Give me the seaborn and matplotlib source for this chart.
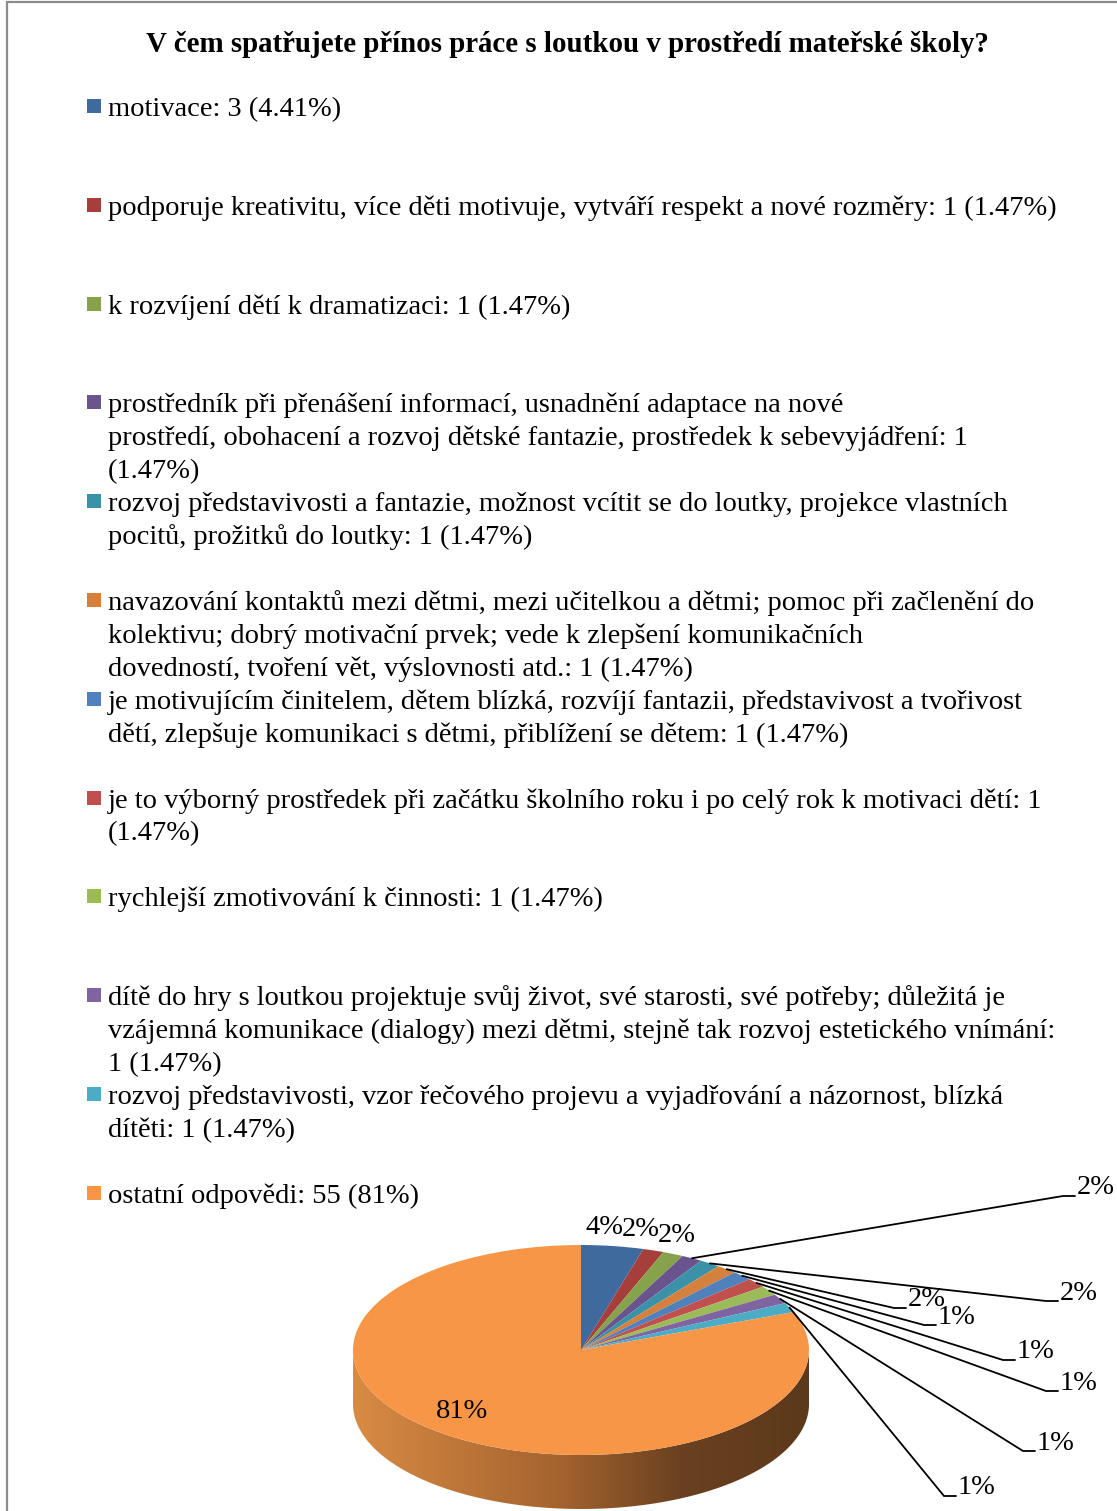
import numpy as np
import matplotlib
matplotlib.use("Agg")
import matplotlib.pyplot as plt
import seaborn as sns
from matplotlib.patches import Rectangle, Polygon
from matplotlib.colors import LinearSegmentedColormap

# ---------------- data ----------------
title = "V čem spatřujete přínos práce s loutkou v prostředí mateřské školy?"
counts = [3, 1, 1, 1, 1, 1, 1, 1, 1, 1, 1, 55]
legend_labels = [
    "motivace: 3 (4.41%)",
    "podporuje kreativitu, více děti motivuje, vytváří respekt a nové rozměry: 1 (1.47%)",
    "k rozvíjení dětí k dramatizaci: 1 (1.47%)",
    "prostředník při přenášení informací, usnadnění adaptace na nové\nprostředí, obohacení a rozvoj dětské fantazie, prostředek k sebevyjádření: 1\n(1.47%)",
    "rozvoj představivosti a fantazie, možnost vcítit se do loutky, projekce vlastních\npocitů, prožitků do loutky: 1 (1.47%)",
    "navazování kontaktů mezi dětmi, mezi učitelkou a dětmi; pomoc při začlenění do\nkolektivu; dobrý motivační prvek; vede k zlepšení komunikačních\ndovedností, tvoření vět, výslovnosti atd.: 1 (1.47%)",
    "je motivujícím činitelem, dětem blízká, rozvíjí fantazii, představivost a tvořivost\ndětí, zlepšuje komunikaci s dětmi, přiblížení se dětem: 1 (1.47%)",
    "je to výborný prostředek při začátku školního roku i po celý rok k motivaci dětí: 1\n(1.47%)",
    "rychlejší zmotivování k činnosti: 1 (1.47%)",
    "dítě do hry s loutkou projektuje svůj život, své starosti, své potřeby; důležitá je\nvzájemná komunikace (dialogy) mezi dětmi, stejně tak rozvoj estetického vnímání:\n1 (1.47%)",
    "rozvoj představivosti, vzor řečového projevu a vyjadřování a názornost, blízká\ndítěti: 1 (1.47%)",
    "ostatní odpovědi: 55 (81%)",
]
pie_labels = ["4%", "2%", "2%", "2%", "2%", "2%", "1%", "1%", "1%", "1%", "1%", "81%"]

# ---------------- style / layout ----------------
colors = ["#3F6A9E", "#A63F3C", "#86A34B", "#6A548E", "#3A91A8", "#D5803C",
          "#4F81BD", "#C0504D", "#9BBB59", "#8064A2", "#4BACC6", "#F79646"]
W, H = 1117, 1511
cx, cy, rx, ry, depth = 581, 1350, 228, 105, 54
# label anchor (pixel x, pixel y, align, has_leader)
label_layout = [(605, 1228, "center", False), (641, 1230, "center", False),
                (677, 1236, "center", False), (1077, 1188, "left", True),
                (1060, 1293, "left", True), (908, 1300, "left", True),
                (938, 1317, "left", True), (1017, 1352, "left", True),
                (1060, 1383, "left", True), (1037, 1443, "left", True),
                (958, 1488, "left", True), (462, 1412, "center", False)]
FS = 20.5
LINE = 33

sns.set_theme(style="white")
plt.rcParams['font.family'] = ['Liberation Serif', 'DejaVu Serif']

fig = plt.figure(figsize=(W / 100, H / 100), dpi=100)
fig.patch.set_facecolor("white")
ax = fig.add_axes([0, 0, 1, 1])


def p2d(px, py):
    return (px - cx) / rx, (cy - py) / ry


# pie top face
wedges, _ = ax.pie(counts, colors=colors, startangle=90, counterclock=False,
                   radius=1, center=(0, 0), wedgeprops=dict(linewidth=0))
for w in wedges:
    w.set_zorder(2)

# side wall (front half) with gradient
d = depth / ry
t = np.linspace(np.pi, 2 * np.pi, 300)
top = np.column_stack([np.cos(t), np.sin(t)])
bot = np.column_stack([np.cos(t[::-1]), np.sin(t[::-1]) - d])
poly = Polygon(np.vstack([top, bot]), closed=True, facecolor="none", edgecolor="none")
ax.add_patch(poly)
wall_cmap = LinearSegmentedColormap.from_list(
    "wall", [(0, "#D88B43"), (0.45, "#A5632F"), (0.72, "#6A4120"), (1, "#5C391B")])
grad = np.linspace(0, 1, 256)[None, :]
im = ax.imshow(grad, extent=[-1, 1, -1 - d, 0.05], aspect="auto", cmap=wall_cmap,
               zorder=1, interpolation="bilinear")
im.set_clip_path(poly)

# data labels and leader lines
total = sum(counts)
cum = np.cumsum([0] + counts)
for i, lab in enumerate(pie_labels):
    lx, ly, ha, lead = label_layout[i]
    X, Y = p2d(lx, ly)
    ax.text(X, Y, lab, ha=ha, va="center", fontsize=FS, color="black", zorder=5)
    if lead:
        frac = (cum[i] + cum[i + 1]) / 2 / total
        ang = np.deg2rad(90 - 360 * frac)
        sx, sy = np.cos(ang), np.sin(ang)
        e1 = p2d(lx - 14, ly + 8)
        e2 = p2d(lx - 2, ly + 8)
        ax.plot([sx, e1[0], e2[0]], [sy, e1[1], e2[1]], color="black", lw=1.3,
                zorder=4, solid_joinstyle="miter")

ax.set_xlim(-cx / rx, (W - cx) / rx)
ax.set_ylim((cy - H) / ry, cy / ry)
ax.set_aspect("auto")
ax.axis("off")

# title
fig.text(567 / W, 1 - 45 / H, title, ha="center", va="center", fontsize=20.8,
         fontweight="bold", color="black")

# legend (manual)
base0, slot = 116, 98.8
for i, (lab, c) in enumerate(zip(legend_labels, colors)):
    b = base0 + i * slot
    fig.add_artist(Rectangle((87 / W, 1 - (b - 3) / H), 14 / W, 14 / H,
                             transform=fig.transFigure, facecolor=c, edgecolor="none"))
    for j, line in enumerate(lab.split("\n")):
        fig.text(108 / W, 1 - (b + j * LINE) / H, line, ha="left", va="baseline",
                 fontsize=FS, color="black")

# outer frame
fig.add_artist(Rectangle((7 / W, -0.05), 1.2, 1.05 - 2 / H, transform=fig.transFigure,
                         fill=False, edgecolor="#8C8C8C", linewidth=1.6))

fig.savefig("out.png", dpi=100, facecolor="white")
